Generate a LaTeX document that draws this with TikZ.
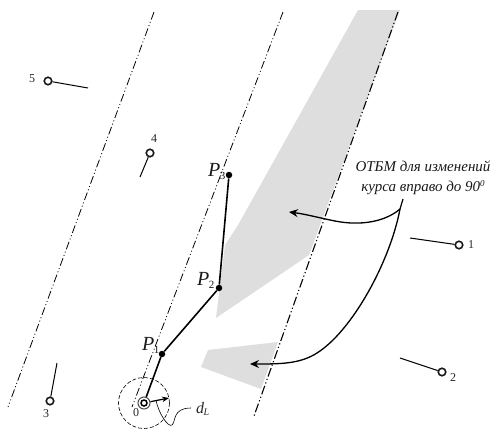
\documentclass[tikz,border=0pt]{standalone}
\usepackage{fontspec}
\setmainfont{Liberation Serif}
\usetikzlibrary{arrows.meta}
\tikzset{
  ddthin/.style={line width=0.8pt,dash pattern=on 8pt off 2.5pt on 1pt off 2.5pt on 1pt off 2.5pt},
  ddthick/.style={line width=1.1pt,dash pattern=on 9pt off 2.5pt on 1.2pt off 2.5pt on 1.2pt off 2.5pt},
  zone/.style={fill=black!13,draw=none},
  seg/.style={line width=1.6pt},
  pt/.style={circle,fill=black,inner sep=0pt,minimum size=6.5pt},
  ring/.style={circle,draw=black!90,line width=1.6pt,fill=white,inner sep=0pt,minimum size=7.5pt},
  tail/.style={line width=1pt},
  num/.style={font=\fontsize{12}{14}\selectfont,inner sep=0pt,text=black!85},
  plabel/.style={font=\fontsize{20}{22}\selectfont,inner sep=0pt,anchor=base west,text=black!90},
  curv/.style={line width=1.2pt},
  curvarrow/.style={line width=1.3pt,-{Stealth[length=9pt,width=8pt,inset=3pt]}}
}
\newcommand{\plab}[1]{\textit{P}\kern-0.5pt\raisebox{-3pt}{\fontsize{11}{12}\selectfont #1}}
\begin{document}
\begin{tikzpicture}[x=1pt,y=-1pt]
\useasboundingbox (0,0) rectangle (493,429);
% shaded regions
\fill[zone] (358,10) -- (400,10) -- (309,255) -- (216,318) -- (225,245) -- (238,225) -- (280,150) -- cycle;
\fill[zone] (208,350) -- (278,342) -- (261,389) -- (201,367) -- cycle;
% course lines
\coordinate (la) at (154,12); \coordinate (lb) at (8,407);
\coordinate (ma) at (283,12); \coordinate (mb) at (132,407);
\coordinate (ra) at (398,12); \coordinate (rb) at (254,416);
\draw[ddthin] (la) -- (lb);
\draw[ddthin] (ma) -- (mb);
\draw[ddthick] (ra) -- (rb);
% track
\node[circle,draw=black!70,fill=white,line width=1pt,inner sep=0pt,minimum size=12pt] (n0) at (144,403) {};
\node[circle,draw,line width=1.5pt,inner sep=0pt,minimum size=6pt] (n0i) at (144,403) {};
\node[pt] (p1) at (162,354) {};
\node[pt] (p2) at (219,288) {};
\node[pt] (p3) at (229,175) {};
\draw[seg] (n0) -- (p1) -- (p2) -- (p3);
\node[plabel] (lp1) at (142,350) {\plab{1}};
\node[plabel] (lp2) at (197,285) {\plab{2}};
\node[plabel] (lp3) at (208,176) {\plab{3}};
% safety circle
\node[circle,draw,dash pattern=on 4pt off 2pt,line width=0.6pt,minimum size=51pt,inner sep=0pt] (cL) at (144,403) {};
\coordinate (dtip) at (169,398);
\draw[line width=1.2pt,-{Stealth[length=7pt,width=5.5pt]}] (n0) -- (dtip);
\coordinate (lstart) at (156,400);
\node[inner sep=0pt,anchor=base west,font=\fontsize{16}{18}\selectfont,text=black!85] (dl) at (196,413) {\textit{d}\kern-0.5pt\raisebox{-2.5pt}{\fontsize{10}{12}\selectfont\textit{L}}};
\coordinate (lend) at (191,408);
\draw[line width=0.6pt] (lstart) .. controls (158,412) and (168,428) .. (172,425) .. controls (176,422) and (172,408) .. (lend);
% targets
\foreach \n/\x/\y/\tx/\ty/\lx/\ly in {1/459/245/410/238/471/245, 2/442/372/400/358/453/378, 3/50/401/57/363/46/414, 4/150/153/140/177/154/139, 5/48/81/88/88/32/79}{
  \coordinate (t\n) at (\tx,\ty);
  \node[ring] (v\n) at (\x,\y) {};
  \draw[tail] (v\n) -- (t\n);
  \node[num] (lab\n) at (\lx,\ly) {\n};
}
\node[num] (lab0) at (136,413) {0};
% annotation
\node[font=\itshape\fontsize{15}{20}\selectfont,align=center,inner sep=0pt,text=black!90] (note) at (423,178) {ОТБМ для изменений\\курса вправо до 90\raisebox{5pt}{\fontsize{9}{10}\selectfont 0}};
\coordinate (c0) at (403,199);
\coordinate (c1) at (400,209);
\coordinate (h1) at (289,212);
\coordinate (h2) at (250,364);
\draw[curv] (c0) -- (c1);
\draw[curvarrow] (c1) .. controls (385,222) and (360,226) .. (335,221) .. controls (320,218) and (305,214) .. (h1);
\draw[curvarrow] (c1) .. controls (390,262) and (352,331) .. (317,353) .. controls (300,364) and (280,364) .. (h2);
\end{tikzpicture}
\end{document}
